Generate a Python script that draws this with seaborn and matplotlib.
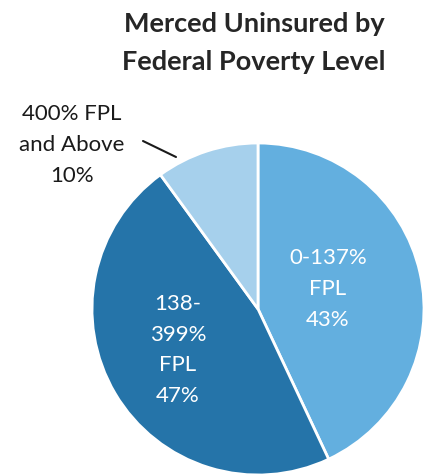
import matplotlib
matplotlib.use("Agg")
import matplotlib.pyplot as plt
import seaborn as sns

sns.set_style("white")
plt.rcParams['font.family'] = ['Lato', 'DejaVu Sans']

categories = ["0-137%\nFPL", "138-\n399%\nFPL", "400% FPL\nand Above"]
values = [43, 47, 10]
colors = ["#63AFDF", "#2574A9", "#A6D0EC"]
title = "Merced Uninsured by\nFederal Poverty Level"

W, H = 425, 474
fig = plt.figure(figsize=(W / 100, H / 100), dpi=100)
ax = fig.add_axes([0, 0, 1, 1])

cx, cy, r = 258, H - 309, 166
wedges, _ = ax.pie(values, colors=colors, startangle=90, counterclock=False,
                   center=(cx, cy), radius=r,
                   wedgeprops=dict(edgecolor="white", linewidth=2))
ax.set_xlim(0, W)
ax.set_ylim(0, H)
ax.set_aspect("equal")
ax.axis("off")

lab_font = 16
ls = 1.68
ax.text(328, H - 289, f"{categories[0]}\n{values[0]}%", color="white",
        ha="center", va="center", fontsize=lab_font, linespacing=ls)
ax.text(178, H - 350, f"{categories[1]}\n{values[1]}%", color="white",
        ha="center", va="center", fontsize=lab_font, linespacing=ls)
ax.text(72, H - 145, f"{categories[2]}\n{values[2]}%", color="#1a1a1a",
        ha="center", va="center", fontsize=lab_font, linespacing=ls)
ax.plot([143, 176], [H - 141, H - 157], color="#1a1a1a", lw=1.5)

ax.text(254, H - 43, title, ha="center", va="center", fontsize=19.5,
        fontweight="bold", color="#262626", linespacing=1.72)

fig.savefig("out.png", dpi=100)
